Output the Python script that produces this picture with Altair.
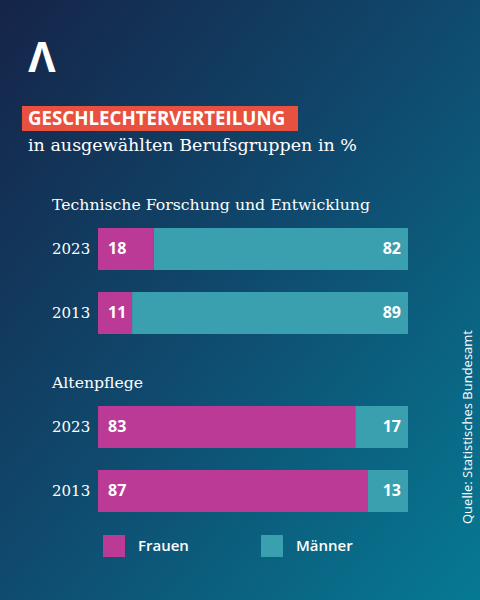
import altair as alt
import pandas as pd

# Occupational groups, survey years and shares (in %)
groups = ["Technische Forschung und Entwicklung", "Altenpflege"]
years = ["2023", "2013"]
frauen = [18, 11, 83, 87]
maenner = [82, 89, 17, 13]
genders = ["Frauen", "Männer"]
gender_colors = ["#bb3a96", "#3aa0b0"]

rows = []
i = 0
for g in groups:
    for y in years:
        rows.append({"group": g, "year": y, "gender": "Frauen", "value": frauen[i]})
        rows.append({"group": g, "year": y, "gender": "Männer", "value": maenner[i]})
        i += 1
df = pd.DataFrame(rows)
one = pd.DataFrame([{"k": 0}])

W, H = 480, 600
SANS = "Open Sans"
SERIF = "DejaVu Serif"

# shared positional encodings
x_scale = alt.Scale(domain=[0, 100], range=[98, 408])
y_enc = alt.Y("group:N", sort=groups, axis=None,
              scale=alt.Scale(range=[228, 512], paddingInner=0.4045, paddingOuter=0))
yoff_enc = alt.YOffset("year:N", sort=years,
                       scale=alt.Scale(paddingInner=0.34375, paddingOuter=0))

background = alt.Chart(one).mark_rect(
    color=alt.LinearGradient(
        gradient="linear", x1=0, y1=0, x2=1, y2=1,
        stops=[alt.GradientStop(color="#152448", offset=0),
               alt.GradientStop(color="#0f4b6f", offset=0.5),
               alt.GradientStop(color="#067a93", offset=1)])
).encode(x=alt.value(0), x2=alt.value(W), y=alt.value(0), y2=alt.value(H))

logo = alt.Chart(one).mark_text(
    text="Λ", font=SANS, fontWeight="bold", fontSize=42, color="white",
    align="center", baseline="alphabetic"
).encode(x=alt.value(42), y=alt.value(72))

title_box = alt.Chart(one).mark_rect(color="#e8503f").encode(
    x=alt.value(22), x2=alt.value(298), y=alt.value(106), y2=alt.value(131))

title = alt.Chart(one).mark_text(
    text="GESCHLECHTERVERTEILUNG", font=SANS, fontWeight="bold", fontSize=18.7,
    color="white", align="left", baseline="middle"
).encode(x=alt.value(28), y=alt.value(119))

subtitle = alt.Chart(one).mark_text(
    text="in ausgewählten Berufsgruppen in %", font=SERIF, fontSize=17.5,
    color="white", align="left", baseline="alphabetic"
).encode(x=alt.value(28), y=alt.value(151))

source = alt.Chart(one).mark_text(
    text="Quelle: Statistisches Bundesamt", font=SANS, fontSize=13,
    color="white", align="center", baseline="middle", angle=270
).encode(x=alt.value(468), y=alt.value(427))

headers = alt.Chart(pd.DataFrame({"group": groups})).mark_text(
    font=SERIF, fontSize=15.7, color="white", align="left", baseline="middle", dy=-23
).encode(x=alt.value(52), y=alt.Y("group:N", sort=groups, bandPosition=0, axis=None),
         text="group:N")

bars = alt.Chart(df).mark_bar().encode(
    x=alt.X("value:Q", stack="zero", scale=x_scale, axis=None),
    y=y_enc,
    yOffset=yoff_enc,
    color=alt.Color("gender:N", scale=alt.Scale(domain=genders, range=gender_colors),
                    legend=alt.Legend(
                        orient="none", legendX=103, legendY=535, direction="horizontal",
                        title=None, symbolType="square", symbolSize=484,
                        symbolStrokeWidth=0, symbolOpacity=1, labelFont=SANS,
                        labelFontSize=15, labelFontWeight=600, labelColor="white",
                        labelOffset=13, columnPadding=72)),
    order=alt.Order("gender:N"),
)

year_labels = alt.Chart(df[df.gender == "Frauen"]).mark_text(
    font=SERIF, fontSize=15, color="white", align="left", baseline="middle"
).encode(x=alt.value(52), y=y_enc, yOffset=yoff_enc, text="year:N")

lab_f = alt.Chart(df[df.gender == "Frauen"]).mark_text(
    font=SANS, fontWeight="bold", fontSize=16, color="white",
    align="left", baseline="middle", dx=10
).encode(x=alt.datum(0, scale=x_scale), y=y_enc, yOffset=yoff_enc, text="value:Q")

lab_m = alt.Chart(df[df.gender == "Männer"]).mark_text(
    font=SANS, fontWeight="bold", fontSize=16, color="white",
    align="right", baseline="middle", dx=-7
).encode(x=alt.datum(100), y=y_enc, yOffset=yoff_enc, text="value:Q")

chart = alt.layer(
    background, logo, title_box, title, subtitle, source, headers,
    bars, year_labels, lab_f, lab_m
).properties(
    width=W, height=H, padding=0, autosize="none"
).configure_view(stroke=None)

chart.save("out.html", embed_options={"renderer": "svg", "actions": False})
